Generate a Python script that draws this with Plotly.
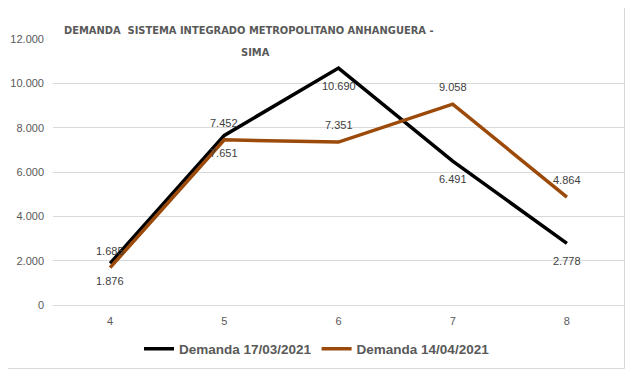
import plotly.graph_objects as go

categories = ["4", "5", "6", "7", "8"]
demanda_1703 = [1876, 7651, 10690, 6491, 2778]
demanda_1404 = [1685, 7452, 7351, 9058, 4864]
series_names = ["Demanda 17/03/2021", "Demanda 14/04/2021"]
y_ticks = [0, 2000, 4000, 6000, 8000, 10000, 12000]
title_lines = ["DEMANDA  SISTEMA INTEGRADO METROPOLITANO ANHANGUERA -", "SIMA"]

# page body has an 8px margin, so work in screen pixels and subtract it
OFF = 8
W, H = 617, 361
L, R, T, B = 53 - OFF, 624 - OFF, 39 - OFF, 305 - OFF

fig = go.Figure()
fig.add_trace(go.Scatter(
    x=categories, y=demanda_1703, name=series_names[0], mode="lines",
    line=dict(color="#000000", width=3.5),
))
fig.add_trace(go.Scatter(
    x=categories, y=demanda_1404, name=series_names[1], mode="lines",
    line=dict(color="#9C4A0A", width=3.5),
))

label_font = dict(family="Liberation Sans, Arial", size=11, color="#404040")

def fmt(v):
    return f"{v:,}".replace(",", ".")

for i, v in enumerate(demanda_1703):
    fig.add_annotation(x=i, y=v, text=fmt(v), showarrow=False, yshift=-18,
                       xanchor="center", yanchor="middle", font=label_font)
for i, v in enumerate(demanda_1404):
    fig.add_annotation(x=i, y=v, text=fmt(v), showarrow=False, yshift=17,
                       xanchor="center", yanchor="middle", font=label_font)

def px_x(p):
    return (p - OFF - L) / (R - L)

def px_y(p):
    return (B - (p - OFF)) / (B - T)

title_font = dict(family="Liberation Sans Narrow, DejaVu Sans Condensed, Arial", size=11,
                  color="#595959", weight="bold")
fig.add_annotation(text=title_lines[0], xref="paper", yref="paper", x=px_x(249), y=px_y(30),
                   xanchor="center", yanchor="middle", showarrow=False, font=title_font)
fig.add_annotation(text=title_lines[1], xref="paper", yref="paper", x=px_x(255), y=px_y(52),
                   xanchor="center", yanchor="middle", showarrow=False, font=title_font)

fig.add_shape(type="rect", xref="paper", yref="paper",
              x0=px_x(5.5), x1=px_x(624.5), y0=px_y(368.5), y1=px_y(4.5),
              line=dict(color="#d9d9d9", width=1), fillcolor="rgba(0,0,0,0)", layer="below")

fig.update_layout(
    width=W, height=H,
    margin=dict(l=L, r=W - R, t=T, b=H - B, autoexpand=False),
    paper_bgcolor="white", plot_bgcolor="white",
    showlegend=True,
    legend=dict(orientation="h", x=px_x(317), xanchor="center", y=px_y(349), yanchor="middle",
                font=dict(family="Liberation Sans, Arial", size=13.5, color="#595959", weight="bold"),
                itemwidth=30, tracegroupgap=0),
    xaxis=dict(type="category", showgrid=False, showline=True, linecolor="#d9d9d9",
               ticks="", tickfont=dict(family="Liberation Sans, Arial", size=11, color="#595959"),
               ticklabelstandoff=6, range=[-0.5, 4.5]),
    yaxis=dict(range=[0, 12000], tickvals=y_ticks, ticktext=[fmt(v) for v in y_ticks],
               showgrid=True, gridcolor="#d9d9d9", gridwidth=1, zeroline=False, showline=False,
               ticks="", tickfont=dict(family="Liberation Sans, Arial", size=11, color="#595959"),
               ticklabelstandoff=8),
)

fig.write_html("out.html")
